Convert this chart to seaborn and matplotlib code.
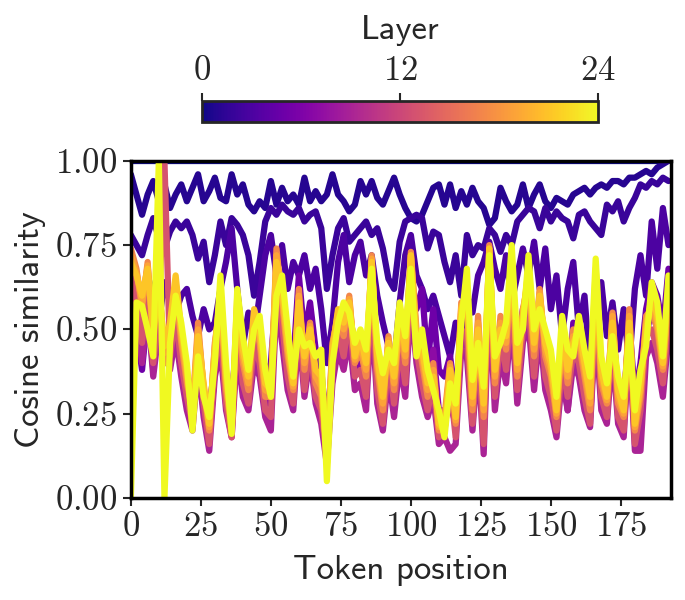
import numpy as np
import pandas as pd
import matplotlib
matplotlib.use("Agg")
import matplotlib.pyplot as plt
import seaborn as sns
from matplotlib.ticker import FuncFormatter

# token positions (every second token)
tokens = list(range(0, 193, 2))

# cosine similarity per layer
sim_layer0 = [1.0] * len(tokens)
sim_layer1 = [0.96, 0.90, 0.84, 0.90, 0.94, 0.88, 0.93, 0.86, 0.90, 0.93, 0.88,
              0.92, 0.96, 0.88, 0.91, 0.95, 0.89, 0.88, 0.96, 0.90, 0.93,
              0.87, 0.85, 0.88, 0.86, 0.94, 0.87, 0.92, 0.88, 0.90, 0.87,
              0.95, 0.88, 0.91, 0.88, 0.90, 0.96, 0.90, 0.88, 0.85, 0.87,
              0.94, 0.90, 0.94, 0.89, 0.87, 0.91, 0.95, 0.90, 0.86, 0.83,
              0.82, 0.84, 0.88, 0.92, 0.93, 0.87, 0.93, 0.86, 0.91, 0.87,
              0.92, 0.88, 0.86, 0.81, 0.83, 0.92, 0.88, 0.85, 0.87, 0.93,
              0.86, 0.90, 0.93, 0.88, 0.86, 0.89, 0.88, 0.87, 0.90, 0.91,
              0.92, 0.90, 0.92, 0.93, 0.92, 0.94, 0.94, 0.93, 0.95, 0.95,
              0.96, 0.97, 0.96, 0.98, 0.99, 1.00]
sim_layer2 = [0.78, 0.75, 0.72, 0.78, 0.83, 0.77, 0.74, 0.79, 0.82, 0.80, 0.82,
              0.78, 0.71, 0.76, 0.64, 0.72, 0.82, 0.75, 0.83, 0.81, 0.78,
              0.72, 0.60, 0.70, 0.82, 0.86, 0.84, 0.87, 0.85, 0.84, 0.86,
              0.82, 0.84, 0.85, 0.80, 0.62, 0.72, 0.80, 0.83, 0.76, 0.78,
              0.80, 0.82, 0.78, 0.80, 0.74, 0.65, 0.62, 0.76, 0.82, 0.83,
              0.84, 0.83, 0.74, 0.79, 0.78, 0.70, 0.64, 0.72, 0.60, 0.78,
              0.72, 0.75, 0.74, 0.80, 0.78, 0.73, 0.78, 0.75, 0.82, 0.84,
              0.86, 0.85, 0.80, 0.86, 0.82, 0.85, 0.83, 0.82, 0.77, 0.84,
              0.85, 0.82, 0.80, 0.78, 0.87, 0.85, 0.88, 0.82, 0.86, 0.89,
              0.93, 0.92, 0.94, 0.93, 0.95, 0.94]
sim_layer3 = [0.70, 0.62, 0.55, 0.66, 0.60, 0.52, 0.64, 0.58, 0.55, 0.60, 0.62,
              0.54, 0.48, 0.56, 0.50, 0.52, 0.62, 0.70, 0.80, 0.62, 0.45,
              0.55, 0.48, 0.60, 0.72, 0.78, 0.66, 0.75, 0.62, 0.70, 0.66,
              0.72, 0.62, 0.68, 0.56, 0.40, 0.52, 0.70, 0.78, 0.64, 0.72,
              0.76, 0.66, 0.72, 0.60, 0.52, 0.45, 0.40, 0.58, 0.72, 0.78,
              0.66, 0.62, 0.56, 0.60, 0.54, 0.48, 0.42, 0.52, 0.46, 0.60,
              0.55, 0.66, 0.70, 0.76, 0.68, 0.62, 0.72, 0.58, 0.66, 0.74,
              0.66, 0.76, 0.62, 0.74, 0.56, 0.66, 0.48, 0.62, 0.70, 0.50,
              0.60, 0.38, 0.52, 0.64, 0.48, 0.58, 0.44, 0.56, 0.40, 0.62,
              0.72, 0.60, 0.82, 0.68, 0.86, 0.75]
sim_layer5 = [0.58, 0.50, 0.38, 0.55, 0.42, 0.48, 0.40, 0.44, 0.56, 0.46, 0.34,
              0.30, 0.42, 0.30, 0.26, 0.40, 0.50, 0.36, 0.30, 0.48, 0.36,
              0.34, 0.44, 0.46, 0.36, 0.40, 0.62, 0.56, 0.46, 0.40, 0.66,
              0.48, 0.58, 0.44, 0.38, 0.20, 0.40, 0.52, 0.50, 0.56, 0.44,
              0.46, 0.40, 0.60, 0.40, 0.34, 0.44, 0.36, 0.48, 0.46, 0.60,
              0.56, 0.62, 0.40, 0.56, 0.38, 0.36, 0.42, 0.30, 0.46, 0.50,
              0.30, 0.46, 0.30, 0.64, 0.40, 0.52, 0.48, 0.62, 0.44, 0.56,
              0.60, 0.46, 0.58, 0.44, 0.38, 0.30, 0.44, 0.28, 0.52, 0.48,
              0.40, 0.30, 0.56, 0.36, 0.30, 0.50, 0.32, 0.28, 0.52, 0.30,
              0.40, 0.56, 0.64, 0.60, 0.50, 0.68]
sim_layer7 = [0.60, 0.52, 0.42, 0.58, 0.38, 0.52, 0.42, 0.40, 0.52, 0.40, 0.30,
              0.24, 0.44, 0.26, 0.18, 0.38, 0.48, 0.30, 0.22, 0.46, 0.32,
              0.30, 0.42, 0.42, 0.28, 0.28, 0.62, 0.50, 0.38, 0.30, 0.58,
              0.38, 0.50, 0.34, 0.28, 0.14, 0.36, 0.48, 0.44, 0.52, 0.38,
              0.40, 0.32, 0.58, 0.34, 0.26, 0.40, 0.30, 0.44, 0.38, 0.60,
              0.48, 0.46, 0.32, 0.44, 0.26, 0.26, 0.28, 0.22, 0.46, 0.46,
              0.24, 0.44, 0.20, 0.62, 0.32, 0.46, 0.40, 0.58, 0.36, 0.50,
              0.56, 0.38, 0.54, 0.38, 0.32, 0.24, 0.40, 0.26, 0.46, 0.42,
              0.32, 0.24, 0.54, 0.30, 0.26, 0.46, 0.26, 0.22, 0.48, 0.20,
              0.26, 0.48, 0.56, 0.50, 0.40, 0.58]
sim_layer9 = [0.62, 0.54, 0.40, 0.56, 0.36, 0.50, 0.44, 0.38, 0.48, 0.36, 0.26,
              0.20, 0.40, 0.24, 0.14, 0.36, 0.44, 0.26, 0.18, 0.44, 0.30,
              0.26, 0.40, 0.36, 0.24, 0.20, 0.58, 0.46, 0.32, 0.26, 0.50,
              0.30, 0.42, 0.28, 0.22, 0.10, 0.34, 0.44, 0.38, 0.48, 0.32,
              0.34, 0.26, 0.56, 0.28, 0.20, 0.36, 0.24, 0.40, 0.30, 0.58,
              0.40, 0.30, 0.24, 0.30, 0.16, 0.18, 0.14, 0.16, 0.44, 0.42,
              0.20, 0.42, 0.13, 0.60, 0.26, 0.42, 0.34, 0.54, 0.28, 0.46,
              0.52, 0.32, 0.50, 0.32, 0.26, 0.18, 0.36, 0.26, 0.40, 0.36,
              0.26, 0.21, 0.52, 0.26, 0.22, 0.44, 0.22, 0.18, 0.46, 0.14,
              0.14, 0.42, 0.46, 0.40, 0.30, 0.48]
sim_layer13 = [0.66, 0.58, 0.46, 0.62, 0.40, 0.55, 1.00, 0.42, 0.54, 0.40, 0.30,
               0.22, 0.46, 0.28, 0.16, 0.40, 0.50, 0.28, 0.18, 0.50, 0.34,
               0.28, 0.46, 0.40, 0.26, 0.24, 0.66, 0.52, 0.36, 0.28, 0.56,
               0.32, 0.46, 0.30, 0.26, 0.12, 0.40, 0.50, 0.42, 0.54, 0.36,
               0.38, 0.30, 0.64, 0.32, 0.22, 0.42, 0.28, 0.46, 0.34, 0.66,
               0.44, 0.34, 0.26, 0.34, 0.18, 0.20, 0.34, 0.18, 0.50, 0.48,
               0.22, 0.48, 0.16, 0.68, 0.30, 0.48, 0.38, 0.60, 0.32, 0.50,
               0.58, 0.36, 0.56, 0.36, 0.30, 0.20, 0.40, 0.30, 0.44, 0.40,
               0.30, 0.22, 0.58, 0.30, 0.24, 0.50, 0.24, 0.20, 0.50, 0.16,
               0.26, 0.48, 0.50, 0.44, 0.34, 0.52]
sim_layer17 = [0.74, 0.68, 0.56, 0.70, 0.46, 0.66, 0.40, 0.48, 0.62, 0.46, 0.34,
               0.26, 0.52, 0.32, 0.20, 0.46, 0.58, 0.32, 0.20, 0.56, 0.40,
               0.32, 0.52, 0.46, 0.30, 0.30, 0.74, 0.58, 0.42, 0.32, 0.62,
               0.38, 0.52, 0.34, 0.30, 0.14, 0.46, 0.54, 0.48, 0.60, 0.40,
               0.44, 0.36, 0.72, 0.38, 0.26, 0.48, 0.32, 0.52, 0.40, 0.73,
               0.50, 0.40, 0.30, 0.40, 0.20, 0.24, 0.40, 0.22, 0.58, 0.56,
               0.26, 0.54, 0.24, 0.75, 0.34, 0.54, 0.44, 0.68, 0.36, 0.56,
               0.64, 0.42, 0.62, 0.42, 0.36, 0.24, 0.46, 0.34, 0.50, 0.46,
               0.36, 0.26, 0.64, 0.34, 0.28, 0.55, 0.28, 0.24, 0.56, 0.20,
               0.30, 0.54, 0.56, 0.50, 0.38, 0.58]
sim_layer19 = [0.72, 0.67, 0.58, 0.69, 0.48, 0.64, 0.43, 0.50, 0.64, 0.48, 0.36,
               0.25, 0.50, 0.33, 0.21, 0.45, 0.60, 0.34, 0.21, 0.58, 0.42,
               0.34, 0.54, 0.48, 0.32, 0.31, 0.72, 0.60, 0.44, 0.33, 0.60,
               0.40, 0.51, 0.36, 0.33, 0.13, 0.45, 0.55, 0.50, 0.59, 0.41,
               0.46, 0.38, 0.71, 0.40, 0.28, 0.47, 0.34, 0.54, 0.42, 0.72,
               0.48, 0.42, 0.32, 0.38, 0.21, 0.22, 0.39, 0.23, 0.57, 0.59,
               0.28, 0.52, 0.26, 0.74, 0.36, 0.52, 0.46, 0.70, 0.38, 0.55,
               0.66, 0.44, 0.61, 0.44, 0.38, 0.25, 0.48, 0.36, 0.48, 0.48,
               0.38, 0.28, 0.66, 0.36, 0.29, 0.54, 0.30, 0.25, 0.54, 0.21,
               0.32, 0.52, 0.58, 0.52, 0.39, 0.60]
sim_layer21 = [0.70, 0.66, 0.60, 0.68, 0.50, 0.62, 0.45, 0.52, 0.66, 0.50, 0.38,
               0.24, 0.48, 0.34, 0.22, 0.44, 0.62, 0.36, 0.22, 0.60, 0.44,
               0.36, 0.56, 0.50, 0.34, 0.32, 0.70, 0.62, 0.46, 0.34, 0.58,
               0.42, 0.50, 0.38, 0.36, 0.12, 0.44, 0.56, 0.52, 0.58, 0.42,
               0.48, 0.40, 0.70, 0.42, 0.30, 0.46, 0.36, 0.55, 0.44, 0.72,
               0.46, 0.44, 0.34, 0.36, 0.22, 0.20, 0.38, 0.24, 0.56, 0.62,
               0.30, 0.50, 0.28, 0.74, 0.38, 0.50, 0.48, 0.72, 0.40, 0.54,
               0.68, 0.46, 0.60, 0.46, 0.40, 0.26, 0.50, 0.38, 0.46, 0.50,
               0.40, 0.30, 0.68, 0.38, 0.30, 0.52, 0.32, 0.26, 0.52, 0.22,
               0.34, 0.50, 0.60, 0.54, 0.40, 0.62]
sim_layer24 = [0.00, 0.58, 0.57, 0.50, 0.42, 1.00, 0.00, 0.46, 0.60, 0.52, 0.40,
               0.20, 0.42, 0.30, 0.24, 0.40, 0.66, 0.40, 0.19, 0.62, 0.48,
               0.38, 0.50, 0.54, 0.38, 0.30, 0.60, 0.66, 0.50, 0.36, 0.50,
               0.45, 0.46, 0.42, 0.44, 0.05, 0.40, 0.52, 0.58, 0.55, 0.46,
               0.50, 0.44, 0.68, 0.46, 0.37, 0.44, 0.40, 0.58, 0.48, 0.68,
               0.42, 0.50, 0.38, 0.32, 0.26, 0.18, 0.34, 0.28, 0.52, 0.68,
               0.35, 0.46, 0.33, 0.72, 0.42, 0.46, 0.52, 0.75, 0.46, 0.50,
               0.72, 0.50, 0.56, 0.50, 0.44, 0.30, 0.54, 0.44, 0.42, 0.54,
               0.44, 0.36, 0.71, 0.42, 0.34, 0.48, 0.36, 0.30, 0.48, 0.26,
               0.38, 0.45, 0.64, 0.58, 0.42, 0.66]

layers = {0: sim_layer0, 1: sim_layer1, 2: sim_layer2, 3: sim_layer3,
          5: sim_layer5, 7: sim_layer7, 9: sim_layer9, 13: sim_layer13,
          17: sim_layer17, 19: sim_layer19, 21: sim_layer21, 24: sim_layer24}

rows = []
for layer, vals in layers.items():
    for t, v in zip(tokens, vals):
        rows.append({"layer": layer, "token": t, "sim": v})
df = pd.DataFrame(rows)

sns.set_style("ticks")
plt.rcParams["mathtext.fontset"] = "cm"
plt.rcParams["font.family"] = ["cmss10", "DejaVu Sans"]
plt.rcParams["axes.unicode_minus"] = False

fig = plt.figure(figsize=(6.85, 6.0), dpi=100)
ax = fig.add_axes([0.191, 0.170, 0.789, 0.562])

sns.lineplot(data=df, x="token", y="sim", hue="layer", palette="plasma",
             hue_norm=(0, 24), linewidth=4.5, legend=False, ax=ax,
             estimator=None, sort=False)

ax.set_xlim(0, 193)
ax.set_ylim(0, 1)
ax.set_xticks([0, 25, 50, 75, 100, 125, 150, 175])
ax.set_yticks([0, 0.25, 0.5, 0.75, 1.0])
ax.xaxis.set_major_formatter(FuncFormatter(lambda v, p: f"${v:.0f}$"))
ax.yaxis.set_major_formatter(FuncFormatter(lambda v, p: f"${v:.2f}$"))
ax.tick_params(labelsize=25, length=6, width=1.5, direction="out", pad=4)
for s in ax.spines.values():
    s.set_visible(True)
    s.set_linewidth(2.5)
    s.set_color("black")
ax.set_xlabel("Token position", fontsize=25, labelpad=9)
ax.set_ylabel("Cosine similarity", fontsize=25, labelpad=6)

cax = fig.add_axes([0.295, 0.797, 0.578, 0.035])
sm = plt.cm.ScalarMappable(norm=plt.Normalize(0, 24), cmap="plasma")
cbar = fig.colorbar(sm, cax=cax, orientation="horizontal", ticks=[0, 12, 24])
cax.xaxis.set_ticks_position("top")
cax.xaxis.set_label_position("top")
cax.xaxis.set_major_formatter(FuncFormatter(lambda v, p: f"${v:.0f}$"))
cax.tick_params(labelsize=25, length=6, width=1.5, pad=4)
cbar.outline.set_linewidth(2)
cbar.set_label("Layer", fontsize=25, labelpad=12)

fig.savefig("out.png", dpi=100)
